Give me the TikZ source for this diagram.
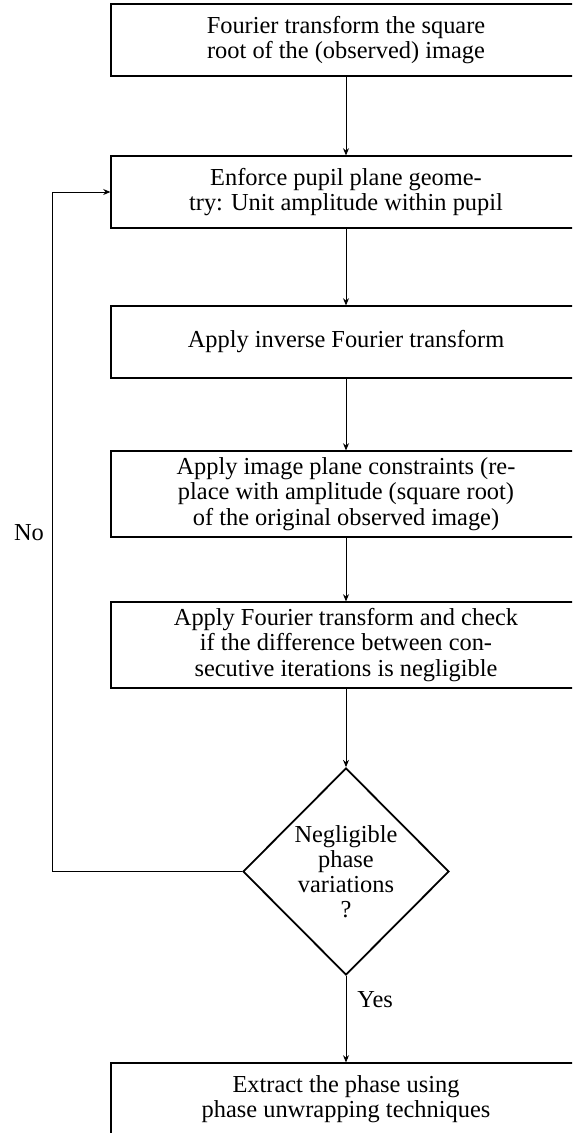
\documentclass[tikz,border=0pt]{standalone}
\usepackage{fontspec}
\setmainfont{Liberation Serif}
\usetikzlibrary{shapes.geometric,arrows.meta}
\begin{document}
\begin{tikzpicture}[x=0.5pt,y=-0.5pt,
  txt/.style={font=\fontsize{12.2}{12.6}\selectfont},
  procbox/.style={txt, draw, line width=0.6pt, minimum width=235pt, minimum height=36pt, inner sep=0pt, align=center},
  tallbox/.style={procbox, minimum height=43pt},
  decision/.style={draw, diamond, line width=0.9pt, minimum width=103pt, minimum height=103.5pt, inner sep=0pt},
  flow/.style={-{Stealth[length=3.6pt,width=3pt]}, line width=0.45pt}]
\useasboundingbox (0,0) rectangle (572,1133);
\clip (0,0) rectangle (572,1133);
\node[procbox] (b1) at (346,40) {Fourier transform the square\\root of the (observed) image};
\node[procbox] (b2) at (346,192) {Enforce pupil plane geome-\\try: Unit amplitude within pupil};
\node[procbox] (b3) at (346,342) {Apply inverse Fourier transform};
\node[tallbox] (b4) at (346,494) {Apply image plane constraints (re-\\place with amplitude (square root)\\of the original observed image)};
\node[tallbox] (b5) at (346,645) {Apply Fourier transform and check\\if the difference between con-\\secutive iterations is negligible};
\node[decision] (dec) at (346,871.5) {};
\node[txt, align=center, inner sep=0pt] (dtext) at (dec.center) {Negligible\\phase\\variations\\?};
\node[procbox] (b6) at (346,1099) {Extract the phase using\\phase unwrapping techniques};
\coordinate (lp) at (52,192);
\draw[flow] (b1) -- (b2);
\draw[flow] (b2) -- (b3);
\draw[flow] (b3) -- (b4);
\draw[flow] (b4) -- (b5);
\draw[flow] (b5) -- (dec);
\draw[flow] (dec.south) -- node[txt, pos=0.27, anchor=west, inner sep=2pt, xshift=3.5pt] (yes) {Yes} (b6);
\draw[flow] (dec.west) -| (lp) -- (b2.west);
\node[txt, inner sep=0pt] (no) at (29,533) {No};
\end{tikzpicture}
\end{document}
